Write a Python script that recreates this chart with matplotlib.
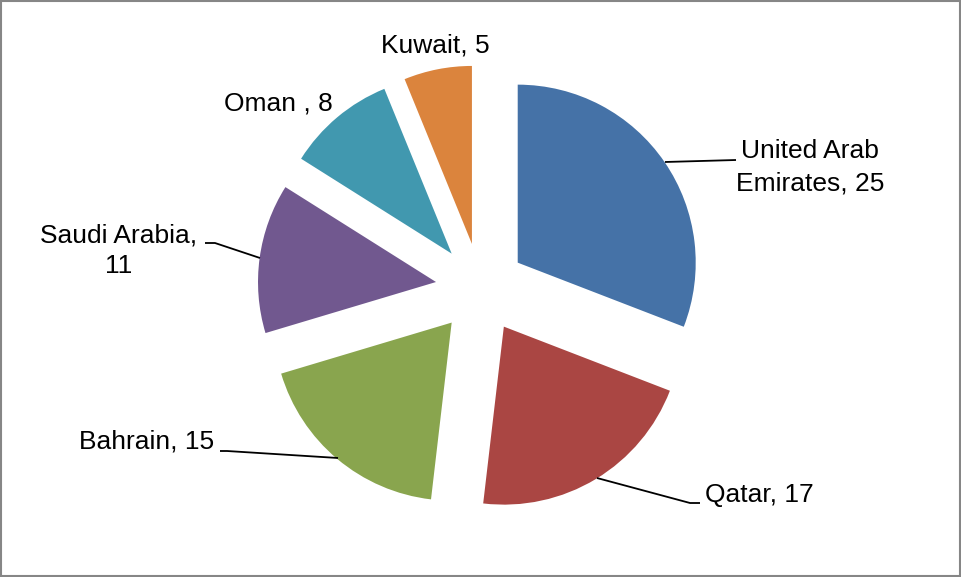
import matplotlib.pyplot as plt
from matplotlib.patches import Rectangle

# data
values = [25, 17, 15, 11, 8, 5]
colors = ['#4572A7', '#AA4643', '#89A54E', '#71588F', '#4198AF', '#DB843D']
label_texts = ['United Arab\nEmirates, 25', 'Qatar, 17', 'Bahrain, 15',
               'Saudi Arabia,\n11', 'Oman , 8', 'Kuwait, 5']

W, H = 961, 577
fig = plt.figure(figsize=(W / 100, H / 100), dpi=100)
ax = fig.add_axes([0, 0, 1, 1])

# pie in pixel units (y flipped so that y = H - pixel_row)
cx, cy = 480.6, H - 288.1
R = 178
ax.pie(values, colors=colors, startangle=90, counterclock=False,
       radius=R, center=(cx, cy), explode=[45] * len(values),
       wedgeprops=dict(linewidth=0))

ax.set_xlim(0, W)
ax.set_ylim(0, H)
ax.set_aspect('equal')
ax.axis('off')

font = dict(family=['Liberation Sans', 'DejaVu Sans'], fontsize=19, color='black')

# labels (pixel positions, y from top; multi-line ones aligned on last baseline)
ax.text(810, H - 190, label_texts[0], ha='center', va='baseline', linespacing=1.42, **font)
ax.text(705, H - 502, label_texts[1], ha='left', va='baseline', **font)
ax.text(214, H - 448, label_texts[2], ha='right', va='baseline', **font)
ax.text(119, H - 273, label_texts[3], ha='center', va='baseline', linespacing=1.36, **font)
ax.text(278, H - 110, label_texts[4], ha='center', va='baseline', **font)
ax.text(435, H - 53, label_texts[5], ha='center', va='baseline', **font)

# leader lines
leaders = [
    [(665, 162), (736, 160)],
    [(597, 478), (690, 503), (700, 503)],
    [(338, 458), (227, 451), (220, 451)],
    [(260, 258), (215, 243), (205, 243)],
]
for pts in leaders:
    xs = [p[0] for p in pts]
    ys = [H - p[1] for p in pts]
    ax.plot(xs, ys, color='black', lw=1.3, solid_capstyle='butt')

# chart area border
ax.add_patch(Rectangle((1, 1.5), W - 2, H - 2.5, fill=False,
                       edgecolor='#868686', lw=1.5, clip_on=False))

fig.savefig('out.png', dpi=100)
